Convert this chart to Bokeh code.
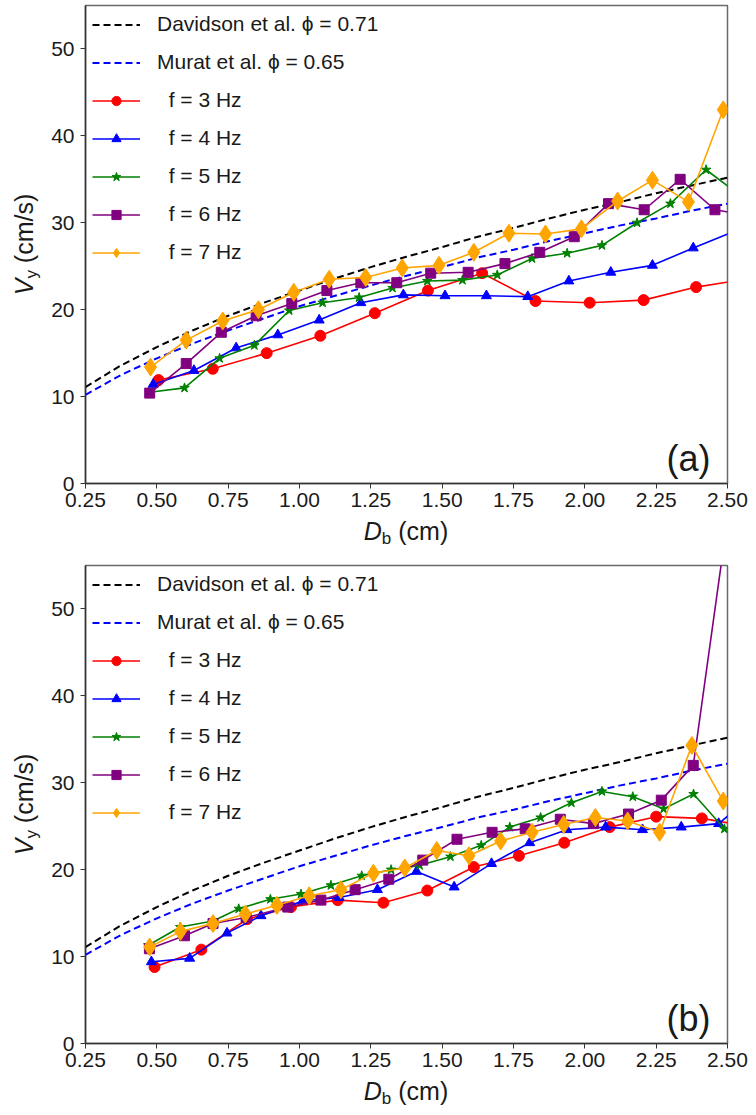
import math
from bokeh.plotting import figure
from bokeh.models import Range1d, FixedTicker, NumeralTickFormatter, Legend, LegendItem, Label
from bokeh.layouts import column, row
from bokeh.embed import file_html
from bokeh.resources import INLINE

# ---------------- data ----------------
x_ticks = [0.25, 0.50, 0.75, 1.00, 1.25, 1.50, 1.75, 2.00, 2.25, 2.50]
y_ticks = [0, 10, 20, 30, 40, 50]

d_theory = [0.25, 0.375, 0.5, 0.625, 0.75, 0.875, 1.0, 1.125, 1.25, 1.375,
            1.5, 1.625, 1.75, 1.875, 2.0, 2.125, 2.25, 2.375, 2.5]
v_davidson = [11.1, 13.6, 15.7, 17.6, 19.3, 20.8, 22.2, 23.6, 24.9, 26.1,
              27.2, 28.4, 29.4, 30.5, 31.5, 32.4, 33.4, 34.3, 35.2]
v_murat = [10.2, 12.5, 14.4, 16.1, 17.6, 19.0, 20.4, 21.6, 22.8, 23.9,
           24.9, 26.0, 26.9, 27.9, 28.8, 29.7, 30.5, 31.4, 32.2]

# panel (a)
a_d3 = [0.506, 0.696, 0.885, 1.073, 1.264, 1.45, 1.64, 1.827, 2.017, 2.206, 2.39, 2.58]
a_v3 = [11.9, 13.2, 15.0, 17.0, 19.6, 22.2, 24.2, 21.0, 20.8, 21.1, 22.6, 23.6]
a_d4 = [0.487, 0.63, 0.778, 0.924, 1.069, 1.215, 1.364, 1.51, 1.655, 1.80, 1.944, 2.091, 2.237, 2.38, 2.53]
a_v4 = [11.4, 13.0, 15.6, 17.1, 18.8, 20.8, 21.7, 21.6, 21.6, 21.5, 23.3, 24.3, 25.1, 27.1, 29.1]
a_d5 = [0.475, 0.597, 0.72, 0.842, 0.964, 1.081, 1.209, 1.326, 1.448, 1.571, 1.693, 1.815, 1.938, 2.06, 2.183, 2.30, 2.425, 2.55]
a_v5 = [10.5, 11.0, 14.4, 15.9, 19.9, 20.8, 21.4, 22.5, 23.3, 23.4, 24.0, 25.9, 26.5, 27.4, 30.0, 32.2, 36.1, 33.0]
a_d6 = [0.475, 0.603, 0.726, 0.848, 0.973, 1.096, 1.215, 1.341, 1.46, 1.591, 1.72, 1.842, 1.963, 2.083, 2.208, 2.334, 2.456, 2.58]
a_v6 = [10.4, 13.8, 17.4, 19.3, 20.7, 22.2, 23.1, 23.1, 24.2, 24.3, 25.3, 26.6, 28.4, 32.2, 31.5, 35.0, 31.5, 30.8]
a_d7 = [0.478, 0.603, 0.731, 0.856, 0.98, 1.104, 1.232, 1.36, 1.489, 1.611, 1.734, 1.862, 1.988, 2.115, 2.237, 2.363, 2.485]
a_v7 = [13.4, 16.5, 18.7, 20.0, 22.0, 23.5, 23.7, 24.8, 25.1, 26.6, 28.8, 28.7, 29.3, 32.5, 34.9, 32.4, 43.0]

# panel (b)
b_d3 = [0.492, 0.656, 0.816, 0.97, 1.134, 1.294, 1.448, 1.611, 1.769, 1.928, 2.087, 2.25, 2.41, 2.57]
b_v3 = [8.8, 10.8, 14.3, 15.7, 16.5, 16.2, 17.6, 20.3, 21.6, 23.1, 24.9, 26.1, 25.9, 25.0]
b_d4 = [0.481, 0.615, 0.746, 0.865, 1.011, 1.139, 1.273, 1.41, 1.542, 1.673, 1.807, 1.937, 2.073, 2.202, 2.338, 2.469, 2.55]
b_v4 = [9.4, 9.8, 12.7, 14.7, 16.4, 16.8, 17.7, 19.8, 18.0, 20.7, 23.1, 24.6, 24.9, 24.6, 24.9, 25.3, 27.5]
b_d5 = [0.47, 0.582, 0.697, 0.787, 0.898, 1.005, 1.11, 1.218, 1.321, 1.421, 1.529, 1.637, 1.737, 1.845, 1.953, 2.06, 2.168, 2.276, 2.381, 2.489]
b_v5 = [11.3, 13.4, 14.1, 15.5, 16.6, 17.2, 18.2, 19.3, 20.0, 20.5, 21.5, 22.8, 24.9, 26.0, 27.7, 29.0, 28.4, 27.0, 28.7, 24.7]
b_d6 = [0.474, 0.597, 0.697, 0.813, 0.959, 1.075, 1.195, 1.313, 1.432, 1.552, 1.675, 1.791, 1.914, 2.03, 2.153, 2.268, 2.38, 2.49]
b_v6 = [10.9, 12.4, 13.8, 14.5, 15.7, 16.5, 17.7, 18.9, 21.1, 23.5, 24.3, 24.7, 25.8, 25.3, 26.4, 28.0, 32.0, 58.0]
b_d7 = [0.475, 0.583, 0.697, 0.81, 0.921, 1.034, 1.145, 1.259, 1.369, 1.481, 1.594, 1.705, 1.815, 1.926, 2.037, 2.15, 2.262, 2.375, 2.485]
b_v7 = [11.1, 12.9, 13.8, 14.9, 15.9, 17.0, 17.7, 19.6, 20.2, 22.2, 21.6, 23.3, 24.3, 25.2, 26.0, 25.6, 24.3, 34.3, 27.9]

freq_labels = ["f = 3 Hz", "f = 4 Hz", "f = 5 Hz", "f = 6 Hz", "f = 7 Hz"]
theory_labels = ["Davidson et al. \u03d5 = 0.71", "Murat et al. \u03d5 = 0.65"]
panel_tags = ["(a)", "(b)"]

# ---------------- styling ----------------
FONT = "Liberation Sans"
TXT = "#1a1a1a"
colors = ["red", "blue", "green", "purple", "orange"]
markers = ["circle", "triangle", "star", "square", "diamond"]
msizes = [11, 10, 10, 10, 18]
AX_FS = 25
SUB_FS = 17
MID = 0.3465          # baseline -> middle offset (em)
W = 756
YLAB_W = 48
LEFT = 84
RIGHT = 29
FRAME_H = 478
FRAME_W = W - LEFT - RIGHT


def blank(width, height):
    f = figure(width=width, height=height, output_backend="svg", toolbar_location=None,
               x_range=Range1d(0, 1), y_range=Range1d(0, 1),
               x_axis_type=None, y_axis_type=None, min_border=0,
               background_fill_color="white", border_fill_color="white")
    f.outline_line_color = None
    f.grid.visible = False
    return f


def make_main(tag, data, top, bottom):
    p = figure(width=W - YLAB_W, height=top + FRAME_H + bottom, output_backend="svg",
               toolbar_location=None,
               x_range=Range1d(0.25, 2.5), y_range=Range1d(0, 55),
               min_border_left=LEFT - YLAB_W, min_border_right=RIGHT, min_border_top=top,
               min_border_bottom=bottom, background_fill_color="white",
               border_fill_color="white")
    p.grid.visible = False
    p.outline_line_color = "#6a6a6a"
    p.outline_line_width = 1.5
    for ax in (p.xaxis[0], p.yaxis[0]):
        ax.axis_line_color = "#333333"
        ax.axis_line_width = 1.5
        ax.major_tick_line_color = "#333333"
        ax.major_tick_out = 5
        ax.major_tick_in = 0
        ax.minor_tick_line_color = None
        ax.major_label_text_font = FONT
        ax.major_label_text_font_size = "21px"
        ax.major_label_text_color = TXT
    p.xaxis.ticker = FixedTicker(ticks=x_ticks)
    p.xaxis.formatter = NumeralTickFormatter(format="0.00")
    p.xaxis.major_label_standoff = 4
    p.yaxis.ticker = FixedTicker(ticks=y_ticks)
    p.yaxis.major_label_standoff = 6

    items = []
    r = p.line(d_theory, v_davidson, line_color="black", line_dash="7 4", line_width=2)
    items.append(LegendItem(label=theory_labels[0], renderers=[r]))
    r = p.line(d_theory, v_murat, line_color="blue", line_dash="7 4", line_width=2)
    items.append(LegendItem(label=theory_labels[1], renderers=[r]))
    for i, (xs, ys) in enumerate(data):
        rl = p.line(xs, ys, line_color=colors[i], line_width=1.6)
        rs = p.scatter(xs, ys, marker=markers[i], size=msizes[i],
                       fill_color=colors[i], line_color=colors[i])
        items.append(LegendItem(label="\u00a0\u00a0" + freq_labels[i], renderers=[rl, rs]))

    leg = Legend(items=items, location="top_left", border_line_color=None,
                 background_fill_alpha=0, label_text_font=FONT,
                 label_text_font_size="21px", label_text_color=TXT,
                 glyph_width=48, glyph_height=23, label_height=23,
                 label_standoff=17, spacing=14, margin=7, padding=5)
    p.add_layout(leg)

    p.add_layout(Label(x=FRAME_W - 18, y=25, x_units="screen", y_units="screen",
                       text=tag, text_align="right", text_baseline="middle",
                       text_font=FONT, text_font_size="36px", text_color=TXT))
    return p


def make_ylabel(height):
    # this figure's frame is aligned with the main plot's frame inside the row
    f = blank(YLAB_W, height)
    center = FRAME_H / 2
    wV = 0.667 * AX_FS
    wy = 0.5 * SUB_FS
    wsp = 0.278 * AX_FS
    wcms = 2.777 * AX_FS
    tot = wV + wy + wsp + wcms
    y0 = center - tot / 2
    base = 32.0                                # baseline x of the main text
    sub_base = base + 5.0
    common = dict(x_units="screen", y_units="screen", text_font=FONT, text_color=TXT,
                  text_baseline="middle", text_align="center", angle=math.pi / 2)
    f.add_layout(Label(x=base - MID * AX_FS, y=y0 + wV / 2, text="V",
                       text_font_size=f"{AX_FS}px", text_font_style="italic", **common))
    f.add_layout(Label(x=sub_base - MID * SUB_FS, y=y0 + wV + wy / 2, text="y",
                       text_font_size=f"{SUB_FS}px", **common))
    f.add_layout(Label(x=base - MID * AX_FS, y=y0 + wV + wy + wsp + wcms / 2, text="(cm/s)",
                       text_font_size=f"{AX_FS}px", **common))
    return f


def make_xlabel(height, base_from_top):
    f = blank(W, height)
    wD = 0.722 * AX_FS
    wb = 0.556 * SUB_FS
    wsp = 0.278 * AX_FS
    wcm = 2.0 * AX_FS
    tot = wD + wb + wsp + wcm
    x0 = LEFT + FRAME_W / 2 - tot / 2
    base = height - base_from_top               # from bottom
    sub_base = base - 5.0
    common = dict(x_units="screen", y_units="screen", text_font=FONT, text_color=TXT,
                  text_baseline="middle", text_align="center")
    f.add_layout(Label(x=x0 + wD / 2, y=base + MID * AX_FS, text="D",
                       text_font_size=f"{AX_FS}px", text_font_style="italic", **common))
    f.add_layout(Label(x=x0 + wD + wb / 2, y=sub_base + MID * SUB_FS, text="b",
                       text_font_size=f"{SUB_FS}px", **common))
    f.add_layout(Label(x=x0 + wD + wb + wsp + wcm / 2, y=base + MID * AX_FS, text="(cm)",
                       text_font_size=f"{AX_FS}px", **common))
    return f


def panel(tag, data, top, bottom, xl_height, xl_base):
    main = make_main(tag, data, top, bottom)
    ylab = make_ylabel(top + FRAME_H + bottom)
    xlab = make_xlabel(xl_height, xl_base)
    return column(row(ylab, main, spacing=0), xlab, spacing=0)


pa = panel(panel_tags[0], [(a_d3, a_v3), (a_d4, a_v4), (a_d5, a_v5), (a_d6, a_v6), (a_d7, a_v7)],
           top=5, bottom=32, xl_height=42, xl_base=24)
pb = panel(panel_tags[1], [(b_d3, b_v3), (b_d4, b_v4), (b_d5, b_v5), (b_d6, b_v6), (b_d7, b_v7)],
           top=8, bottom=32, xl_height=40, xl_base=24)

layout = column(pa, pb, spacing=0)
open("out.html", "w").write(file_html(layout, INLINE))
